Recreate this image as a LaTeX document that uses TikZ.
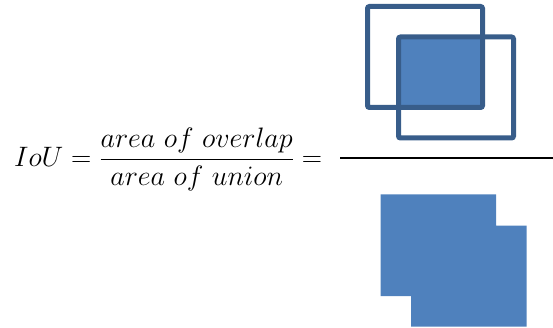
\documentclass[tikz,border=0pt]{standalone}
\usepackage{graphicx}
\begin{document}
\begin{tikzpicture}[x=1pt,y=-1pt,
  boxline/.style={draw=boxedge,line width=5pt,rounded corners=2pt},
  areafill/.style={fill=boxfill}]
\definecolor{boxfill}{HTML}{4F81BD}
\definecolor{boxedge}{HTML}{385D8A}
\useasboundingbox (0,0) rectangle (553,328);
% formula
\node[anchor=base west,inner sep=0pt] (formula) at (14,166.5)
  {\scalebox{1.13}{\fontsize{24.88}{30}\selectfont $\displaystyle IoU=\frac{area\ of\ overlap}{area\ of\ union}=$}};
% overlap picture
\fill[areafill] (398.5,36.5) rectangle (482.5,107.5);
\draw[boxline] (367.5,6.5) rectangle (482.5,107.5);
\draw[boxline] (398.5,37) rectangle (513.5,138);
% fraction line
\draw[line width=2.5pt] (340,158) -- (553,158);
% union picture
\fill[areafill] (380.7,194.3) -- (496,194.3) -- (496,225.7) -- (526.7,225.7)
  -- (526.7,326.7) -- (411,326.7) -- (411,296) -- (380.7,296) -- cycle;
\end{tikzpicture}
\end{document}
